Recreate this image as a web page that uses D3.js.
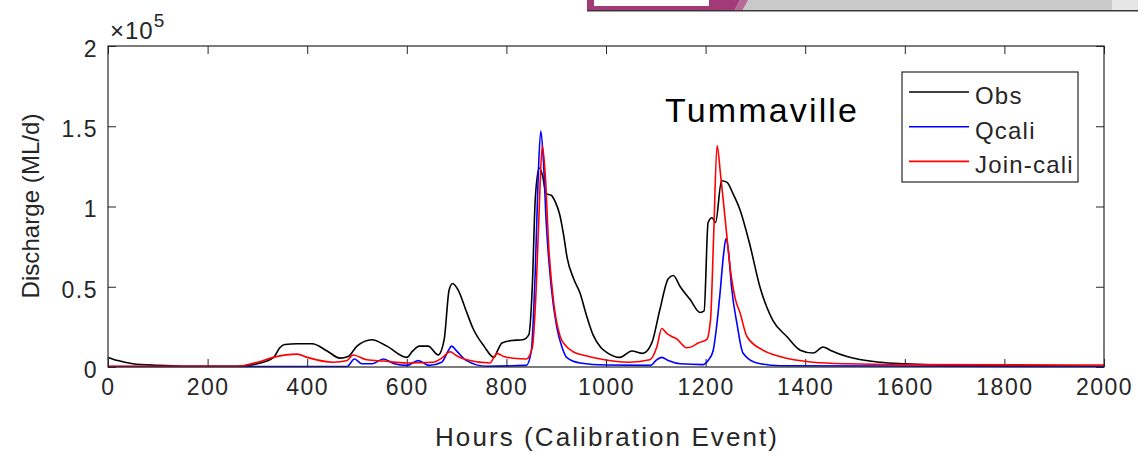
<!doctype html>
<html lang="en">
<head>
    <meta charset="UTF-8">
    <title>Tummaville</title>
    <style>
        body { margin: 0; background: #fff; }
        text { font-family: "Liberation Sans", Arial, sans-serif; fill: #262626; }
    </style>
</head>
<body>
<div id="chart"></div>
<script src="https://d3js.org/d3.v7.min.js"></script>
<script>
    // values in ML/d
    const obsHours = [0, 20, 50, 100, 150, 260, 300, 332, 345, 355, 380, 410, 440, 466, 482, 500, 530, 560, 600, 612, 625, 643, 663, 675,
        685, 692, 703, 718, 733, 755, 775, 782, 791, 810, 833, 845, 852, 858, 866, 872, 880, 890, 898, 907, 915, 922, 935, 948, 960, 974,
        990, 1002, 1028, 1052, 1074, 1092, 1108, 1125, 1135, 1149, 1169, 1189, 1197, 1205, 1213, 1220, 1232, 1243, 1255, 1269, 1289,
        1309, 1335, 1363, 1390, 1416, 1436, 1450, 1484, 1550, 1600, 1700, 1800, 2000]
    const obsFlow = [6000, 4000, 2000, 1000, 500, 500, 2000, 5800, 12000, 14000, 14500, 14500, 10000, 5500, 6500, 13000, 17000, 13000,
        6000, 10000, 13000, 13000, 7500, 17000, 48000, 52000, 48000, 36000, 24000, 13000, 6000, 10000, 15000, 16500, 17000, 20000,
        50000, 105000, 124000, 120000, 108000, 107000, 103000, 95000, 82000, 68000, 55000, 46000, 33000, 20000, 12000, 9000, 6000,
        10000, 8500, 15000, 35500, 55000, 57000, 50000, 42000, 34000, 35000, 90000, 93000, 90000, 116000, 115000, 108000, 98000,
        76000, 50000, 29000, 19000, 10500, 8700, 12500, 10500, 6500, 3000, 2000, 1000, 800, 500]

    const qcaliHours = [0, 480, 495, 510, 530, 553, 575, 600, 623, 645, 670, 683, 690, 700, 720, 760, 840, 850, 858, 864, 869, 874,
        880, 890, 901, 912, 921, 948, 1000, 1090, 1100, 1112, 1125, 1149, 1195, 1205, 1215, 1222, 1229, 1236, 1241, 1246, 1252,
        1263, 1275, 1303, 1350, 2000]
    const qcaliFlow = [300, 300, 5000, 2000, 2000, 5000, 2000, 1000, 4000, 1000, 3000, 10000, 13000, 10000, 4000, 500, 1000, 10000,
        60000, 120000, 147000, 130000, 90000, 50000, 25000, 12000, 6000, 2500, 1200, 1000, 4000, 6000, 4000, 2000, 1500, 4000,
        10000, 25000, 46000, 70000, 80000, 72000, 50000, 27000, 8700, 2500, 800, 300]

    const joinHours = [0, 260, 300, 332, 380, 400, 452, 480, 492, 520, 553, 600, 653, 672, 687, 700, 720, 767, 775, 781, 795, 813, 840,
        852, 860, 866, 872, 878, 885, 895, 908, 920, 934, 960, 981, 1048, 1088, 1102, 1112, 1122, 1132, 1142, 1162, 1175, 1185, 1202,
        1210, 1216, 1223, 1230, 1240, 1250, 1260, 1269, 1283, 1315, 1349, 1416, 1484, 1600, 2000]
    const joinFlow = [500, 500, 3000, 6000, 8000, 6000, 3000, 4000, 7500, 4500, 3700, 2500, 3000, 6000, 9500, 7000, 4500, 2500, 6000,
        8500, 6500, 5500, 5000, 12000, 50000, 100000, 138000, 120000, 75000, 40000, 19000, 13000, 9500, 7000, 5500, 3000, 4500, 12500,
        24000, 21000, 19000, 17500, 12000, 13000, 15000, 17000, 30000, 80000, 138000, 120000, 90000, 60000, 42000, 34000, 19000,
        10500, 6500, 3000, 2000, 1500, 1200]

    const seriesNames = ['Obs', 'Qcali', 'Join-cali']
    const seriesColors = ['#000000', '#0000ff', '#ff0000']
    const xTicks = [0, 200, 400, 600, 800, 1000, 1200, 1400, 1600, 1800, 2000]
    const yTicks = [0, 50000, 100000, 150000, 200000]
    const yTickLabels = ['0', '0.5', '1', '1.5', '2']

    var margin = {top: 46, right: 34, bottom: 88, left: 108},
        width = 1138 - margin.left - margin.right,
        height = 455 - margin.top - margin.bottom

    var root = d3.select('#chart')
        .append('svg')
            .attr('width', 1138)
            .attr('height', 455)

    // cropped window strip at the top of the picture
    var strip = root.append('g')
    strip.append('rect').attr('x', 587).attr('y', 0).attr('width', 551).attr('height', 11).attr('fill', '#e6e6e6')
    strip.append('rect').attr('x', 587).attr('y', 0).attr('width', 525).attr('height', 11).attr('fill', '#c9c9c9')
    strip.append('path').attr('d', 'M587,0 H740 L734,11 H587 Z').attr('fill', '#a33a78')
    strip.append('path').attr('d', 'M734,11 L740,0 H748 L742,11 Z').attr('fill', '#b76a95')
    strip.append('rect').attr('x', 594).attr('y', 0).attr('width', 115).attr('height', 6).attr('fill', '#fff')
    strip.append('rect').attr('x', 587).attr('y', 10).attr('width', 551).attr('height', 1.5).attr('fill', '#3a3a3a')

    var svg = root.append('g')
        .attr('transform', 'translate(' + margin.left + ',' + margin.top + ')')

    var x = d3.scaleLinear().domain([0, 2000]).range([0, width])
    var y = d3.scaleLinear().domain([0, 200000]).range([height, 0])

    // axes (ticks inward, matlab style)
    svg.append('g')
        .attr('transform', 'translate(0,' + height + ')')
        .call(d3.axisBottom(x).tickValues(xTicks).tickSize(-8).tickPadding(12).tickFormat(d3.format('d')))
    svg.append('g')
        .call(d3.axisTop(x).tickValues(xTicks).tickSize(-8).tickFormat(''))
    svg.append('g')
        .attr('class', 'yaxis')
        .call(d3.axisLeft(y).tickValues(yTicks).tickSize(-8).tickPadding(10).tickFormat((d, i) => yTickLabels[i]))
    svg.append('g')
        .attr('transform', 'translate(' + width + ',0)')
        .call(d3.axisRight(y).tickValues(yTicks).tickSize(-8).tickFormat(''))

    svg.selectAll('.domain').remove()
    svg.selectAll('.tick line').attr('stroke', '#262626')
    svg.selectAll('.tick text')
        .style('font-size', '23px')
        .style('letter-spacing', '1.5px')
        .style('font-family', '"Liberation Sans", Arial, sans-serif')
        .attr('fill', '#262626')
    svg.selectAll('.yaxis .tick text').attr('dy', '0.45em')

    // lines
    var line = d3.line()
        .x(d => x(d[0]))
        .y(d => y(d[1]))
        .curve(d3.curveMonotoneX)

    var allSeries = [
        d3.zip(obsHours, obsFlow),
        d3.zip(qcaliHours, qcaliFlow),
        d3.zip(joinHours, joinFlow)
    ]

    svg.selectAll('.series')
        .data(allSeries)
        .enter()
        .append('path')
        .attr('class', 'series')
        .attr('d', line)
        .attr('fill', 'none')
        .attr('stroke', (d, i) => seriesColors[i])
        .attr('stroke-width', 1.6)

    // frame
    svg.append('rect')
        .attr('width', width)
        .attr('height', height)
        .attr('fill', 'none')
        .attr('stroke', '#262626')
        .attr('stroke-width', 1.2)

    // exponent
    var expo = svg.append('text')
        .attr('x', 2)
        .attr('y', -7)
        .style('font-size', '24px')
        .style('letter-spacing', '1px')
    expo.append('tspan').text('\u00d710')
    expo.append('tspan').attr('dy', -12).style('font-size', '19px').text('5')

    // labels
    svg.append('text')
        .attr('x', width / 2 - 171)
        .attr('y', height + 79)
        .attr('textLength', 342)
        .attr('lengthAdjust', 'spacing')
        .style('font-size', '26px')
        .text('Hours (Calibration Event)')

    svg.append('text')
        .attr('transform', 'translate(-69,' + (height / 2 + 92) + ') rotate(-90)')
        .attr('textLength', 185)
        .attr('lengthAdjust', 'spacing')
        .style('font-size', '24px')
        .text('Discharge (ML/d)')

    svg.append('text')
        .attr('x', 665 - margin.left)
        .attr('y', 76)
        .attr('textLength', 192)
        .attr('lengthAdjust', 'spacing')
        .style('font-size', '34px')
        .style('fill', '#000')
        .text('Tummaville')

    // legend
    var legend = svg.append('g')
        .attr('transform', 'translate(' + (902 - margin.left) + ',' + (72 - margin.top) + ')')
    legend.append('rect')
        .attr('width', 176)
        .attr('height', 110)
        .attr('fill', '#fff')
        .attr('stroke', '#262626')
        .attr('stroke-width', 1.2)

    var entries = legend.selectAll('.entry')
        .data(seriesNames)
        .enter()
        .append('g')
        .attr('transform', (d, i) => 'translate(0,' + (20 + i * 34.7) + ')')
    entries.append('line')
        .attr('x1', 7).attr('x2', 67)
        .attr('stroke', (d, i) => seriesColors[i])
        .attr('stroke-width', 1.6)
    entries.append('text')
        .attr('x', 73)
        .attr('y', 12)
        .style('font-size', '24px')
        .style('letter-spacing', '1.2px')
        .text(d => d)
</script>
</body>
</html>
